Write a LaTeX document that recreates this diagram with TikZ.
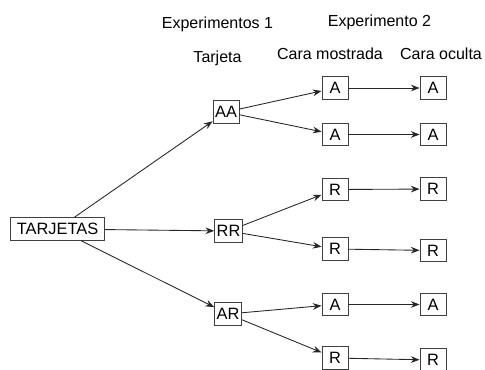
\documentclass[tikz,border=0pt]{standalone}
\usepackage{fontspec}
\setmainfont{Liberation Sans}
\usetikzlibrary{arrows.meta}

\begin{document}
\begin{tikzpicture}[x=0.75pt,y=-0.75pt,>={Stealth[length=6.5pt,width=5pt]},
  caja/.style={draw=black!75,line width=0.7pt,minimum width=19.5pt,minimum height=17pt,
    inner xsep=1.5pt,inner ysep=0pt,font=\fontsize{12.3}{14}\selectfont},
  titulo/.style={anchor=base,font=\fontsize{12}{14}\selectfont},
  flecha/.style={->,draw=black!85,line width=0.65pt}]
  \useasboundingbox (0,0) rectangle (485,369);
  % encabezados
  \node[titulo] (exp1) at (217.5,28) {Experimentos 1};
  \node[titulo] (exp2) at (379.5,26) {Experimento 2};
  \node[titulo] (tarjeta) at (217.5,62) {Tarjeta};
  \node[titulo] (mostrada) at (330,59) {Cara mostrada};
  \node[titulo] (oculta) at (441,59) {Cara oculta};
  % tarjetas
  \node[caja,minimum width=70pt] (tarj) at (57.5,229) {TARJETAS};
  \node[caja] (aa) at (226,112) {AA};
  \node[caja] (rr) at (228.5,231) {RR};
  \node[caja] (ar) at (228,314) {AR};
  % cara mostrada -> cara oculta
  \foreach \i/\t/\ym/\yo in {1/A/88/88,2/A/134.5/134.5,3/R/189.5/189,4/R/249/250.5,5/A/304.5/304.5,6/R/358/360}{
    \node[caja] (m\i) at (335,\ym) {\t};
    \node[caja] (o\i) at (433,\yo) {\t};
    \draw[flecha] (m\i) -- (o\i);
  }
  \draw[flecha] (tarj) -- (aa);
  \draw[flecha] (tarj) -- (rr);
  \draw[flecha] (tarj) -- (ar);
  \draw[flecha] (aa) -- (m1);
  \draw[flecha] (aa) -- (m2);
  \draw[flecha] (rr) -- (m3);
  \draw[flecha] (rr) -- (m4);
  \draw[flecha] (ar) -- (m5);
  \draw[flecha] (ar) -- (m6);
\end{tikzpicture}
\end{document}
